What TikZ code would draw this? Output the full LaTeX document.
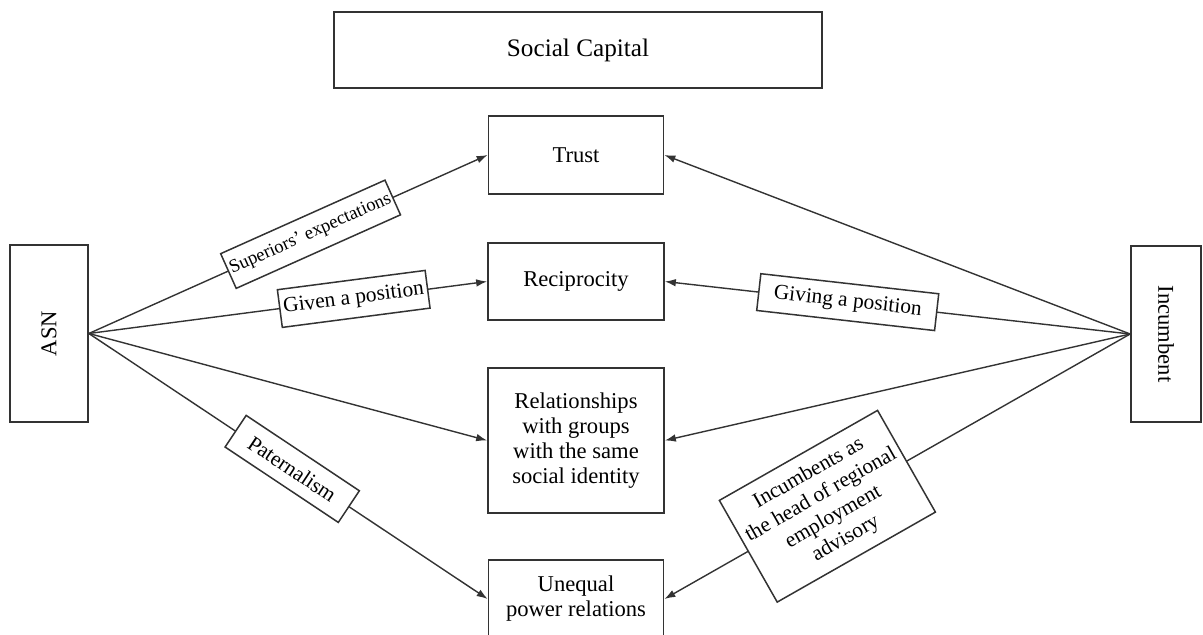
\documentclass[tikz,border=0pt]{standalone}
\usepackage{fontspec}
\setmainfont{Liberation Serif}
\usetikzlibrary{arrows.meta}

\begin{document}
\begin{tikzpicture}[x=0.5pt,y=-0.5pt,
  ink/.style={draw=black!80},
  box/.style={ink, line width=0.85pt, inner sep=0pt, align=center,
    font=\fontsize{11.3}{12.5}\selectfont},
  tag/.style={ink, line width=0.75pt, fill=white, inner sep=0pt, align=center,
    sloped, font=\fontsize{10.7}{12.5}\selectfont},
  link/.style={ink, line width=0.7pt, -{Latex[length=5.5pt,width=3.8pt]}}
]
\useasboundingbox (0,0) rectangle (1203,635);

% concept boxes
\node[box, minimum width=244pt, minimum height=38pt,
  font=\fontsize{12.6}{14}\selectfont] (sc) at (578,50) {Social Capital};
\node[box, minimum width=87.5pt, minimum height=39pt] (trust) at (576,155) {Trust};
\node[box, minimum width=88pt, minimum height=38.5pt] (reci) at (576,281.5) {Reciprocity};
\node[box, minimum width=88pt, minimum height=72.5pt] (rel) at (576,440.5)
  {Relationships\\with groups\\with the same\\social identity};
\node[box, minimum width=87.5pt, minimum height=39pt] (uneq) at (576,599)
  {Unequal\\power relations};

% actors
\node[box, minimum width=39pt, minimum height=88.5pt] (asn) at (49,333.5)
  {\rotatebox{90}{ASN}};
\node[box, minimum width=35pt, minimum height=88pt] (inc) at (1166,334)
  {\rotatebox{-90}{Incumbent}};

% links from ASN
\draw[link] (asn.east) -- node[tag, pos=0.556, minimum width=90pt, minimum height=19pt,
  font=\fontsize{9.3}{11}\selectfont] (l1) {Superiors' expectations} (trust.west);
\draw[link] (asn.east) -- node[tag, pos=0.665, minimum width=74.5pt, minimum height=19pt]
  (l2) {Given a position} (reci.west);
\draw[link] (asn.east) -- (rel.west);
\draw[link] (asn.east) -- node[tag, pos=0.51, minimum width=68pt, minimum height=19pt]
  (l3) {Paternalism} (uneq.west);

% links from Incumbent
\draw[link] (inc.west) -- (trust.east);
\draw[link] (inc.west) -- node[tag, pos=0.607, minimum width=89.5pt, minimum height=18.5pt]
  (l4) {Giving a position} (reci.east);
\draw[link] (inc.west) -- (rel.east);
\draw[link] (inc.west) -- node[tag, pos=0.65, minimum width=91pt, minimum height=58.5pt]
  (l5) {Incumbents as\\the head of regional\\employment\\advisory} (uneq.east);
\end{tikzpicture}
\end{document}
